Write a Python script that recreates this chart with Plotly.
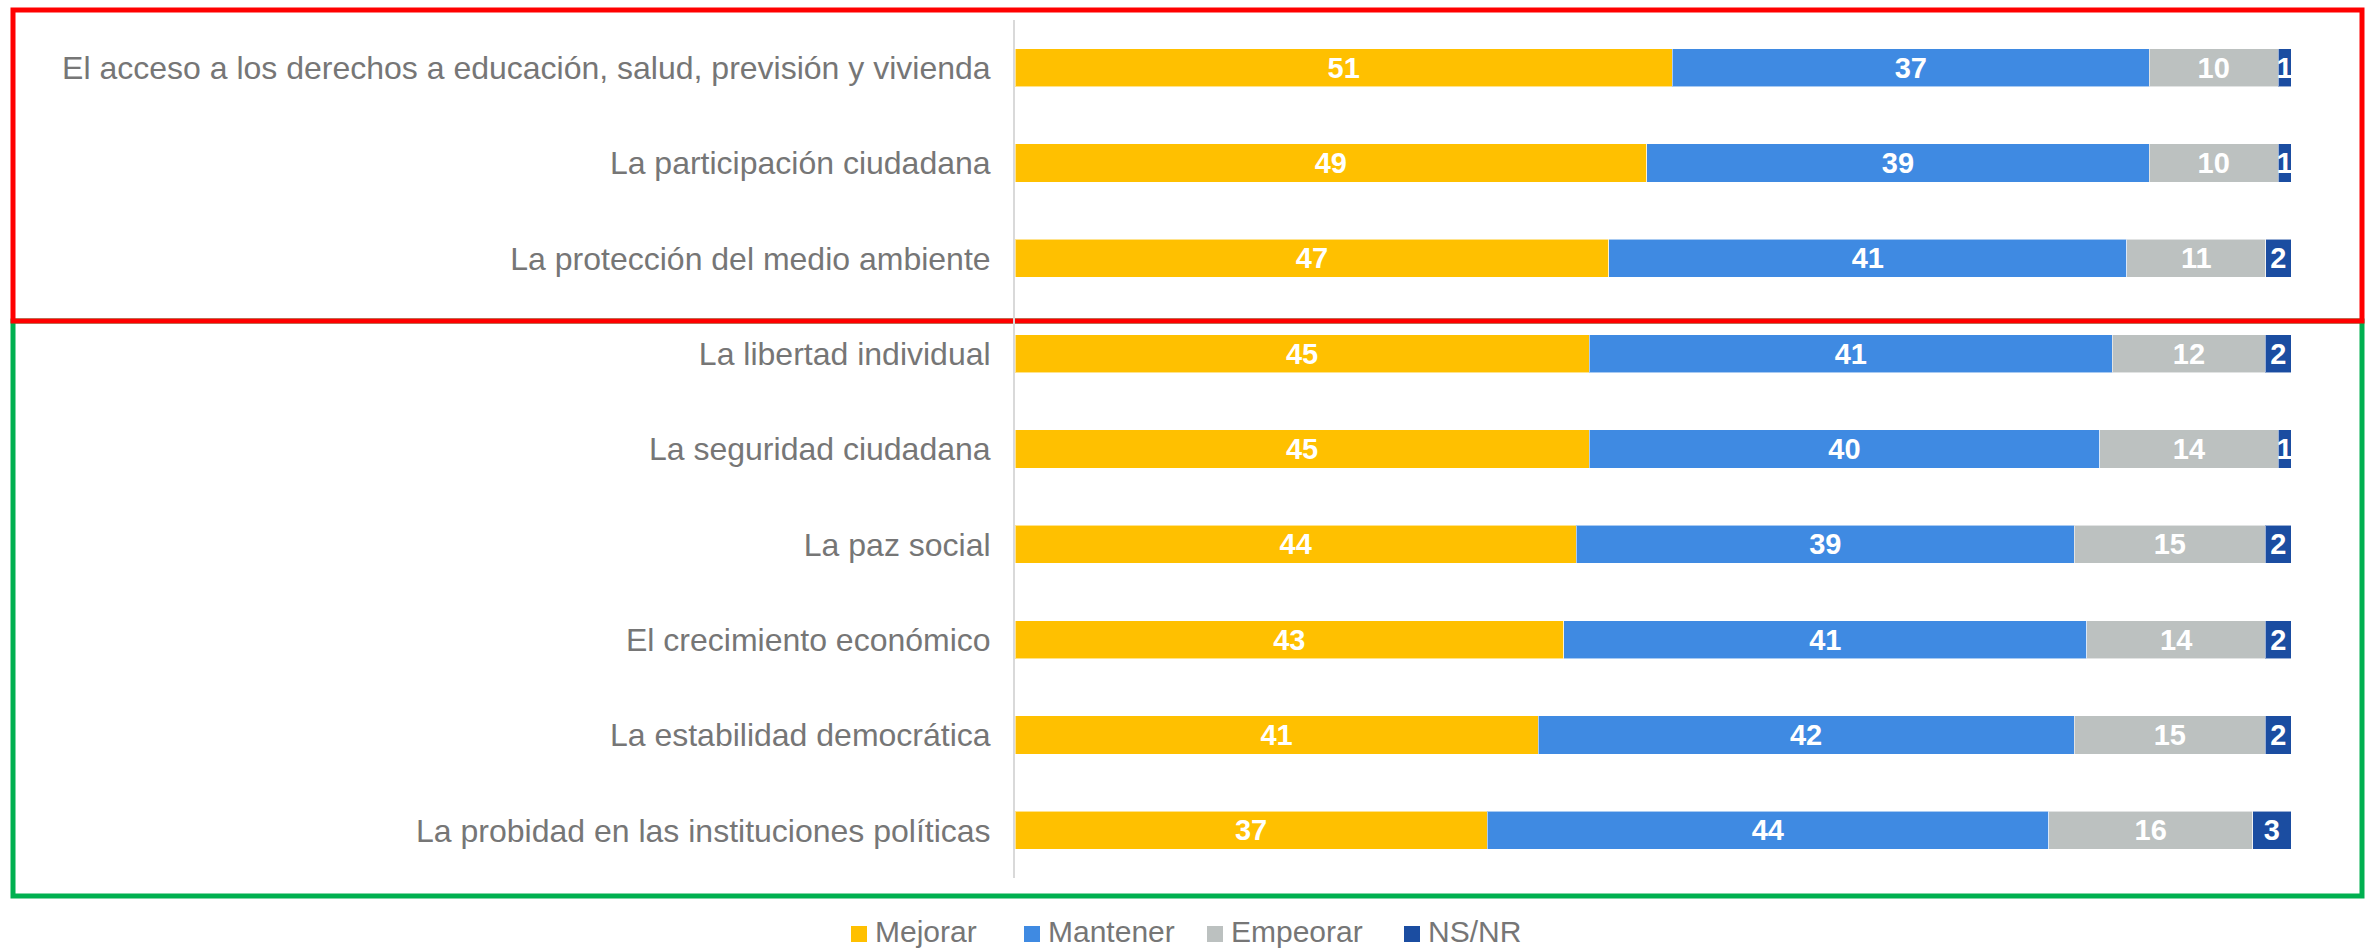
import plotly.graph_objects as go

categories = [
    "El acceso a los derechos a educación, salud, previsión y vivienda",
    "La participación ciudadana",
    "La protección del medio ambiente",
    "La libertad individual",
    "La seguridad ciudadana",
    "La paz social",
    "El crecimiento económico",
    "La estabilidad democrática",
    "La probidad en las instituciones políticas",
]
mejorar = [51, 49, 47, 45, 45, 44, 43, 41, 37]
mantener = [37, 39, 41, 41, 40, 39, 41, 42, 44]
empeorar = [10, 10, 11, 12, 14, 15, 14, 15, 16]
nsnr = [1, 1, 2, 2, 1, 2, 2, 2, 3]
series_names = ["Mejorar", "Mantener", "Empeorar", "NS/NR"]
series_values = [mejorar, mantener, empeorar, nsnr]
colors = ["#FFC000", "#3F8AE2", "#BCC1C0", "#1B4DA1"]

W, H = 2374, 949
L, R, T, B = 1015, 2291, 20, 878
FONT = "Liberation Sans, Arial, sans-serif"
TEXT_GRAY = "#767676"


def px_x(px):
    return (px - L) / (R - L)


def px_y(py):
    return (B - py) / (B - T)


fig = go.Figure()
for name, vals, col in zip(series_names, series_values, colors):
    fig.add_trace(go.Bar(
        y=categories, x=vals, name=name, orientation="h",
        marker=dict(color=col, line=dict(color="rgba(255,255,255,0.55)", width=1)),
        text=vals, textposition="inside", insidetextanchor="middle", textangle=0,
        constraintext="none", cliponaxis=False,
        textfont=dict(color="white", size=29, family=FONT, weight="bold"),
        showlegend=False, hoverinfo="skip",
    ))

shapes = [
    dict(type="rect", xref="paper", yref="paper",
         x0=px_x(13), x1=px_x(2362), y0=px_y(321), y1=px_y(896),
         line=dict(color="#00B050", width=5), fillcolor="rgba(0,0,0,0)", layer="below"),
    dict(type="rect", xref="paper", yref="paper",
         x0=px_x(13), x1=px_x(2362), y0=px_y(10), y1=px_y(321),
         line=dict(color="#FF0000", width=5), fillcolor="rgba(0,0,0,0)", layer="below"),
]
annotations = []
legend_left = [851, 1024, 1207, 1404]
for name, col, lx in zip(series_names, colors, legend_left):
    shapes.append(dict(type="rect", xref="paper", yref="paper",
                       x0=px_x(lx), x1=px_x(lx + 16), y0=px_y(942), y1=px_y(926),
                       fillcolor=col, line=dict(width=0)))
    annotations.append(dict(xref="paper", yref="paper", x=px_x(lx + 23), y=px_y(931),
                            xanchor="left", yanchor="middle", text=name, showarrow=False,
                            borderpad=0,
                            font=dict(size=30, color=TEXT_GRAY, family=FONT)))

fig.update_layout(
    width=W, height=H, autosize=False,
    margin=dict(l=L, r=W - R, t=T, b=H - B, pad=0),
    barmode="stack", barnorm="percent", bargap=0.6,
    plot_bgcolor="white", paper_bgcolor="white",
    font=dict(family=FONT, color=TEXT_GRAY),
    shapes=shapes, annotations=annotations,
    xaxis=dict(range=[0, 100], visible=False, showgrid=False, zeroline=False, fixedrange=True),
    yaxis=dict(autorange="reversed", showline=True, linecolor="#D9D9D9", linewidth=2,
               ticks="", ticklabelstandoff=16, showgrid=False, zeroline=False,
               tickfont=dict(size=32, color=TEXT_GRAY, family=FONT)),
)

fig.write_html("out.html", config={"displayModeBar": False},
               post_script="document.body.style.margin='0';document.body.style.overflow='hidden';")
